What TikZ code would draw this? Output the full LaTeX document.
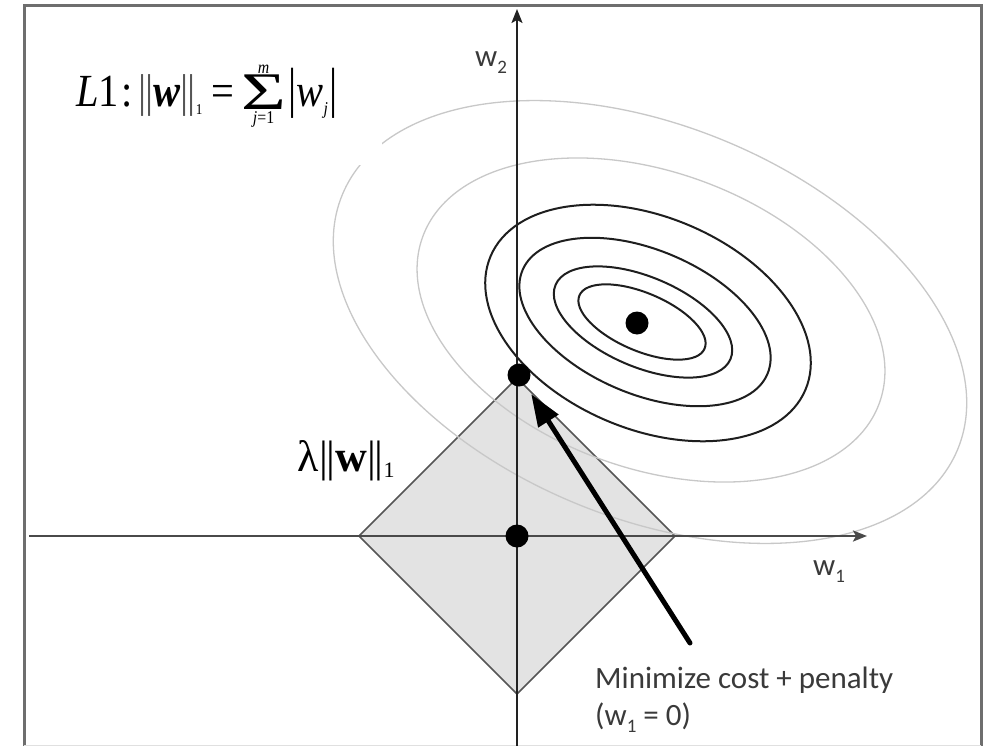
\documentclass[tikz,border=0pt]{standalone}
\usepackage{fontspec}
\usepackage{graphicx}
\setmainfont{Liberation Serif}
\newfontfamily\calibri{Carlito}
\usetikzlibrary{arrows.meta}
\definecolor{framegray}{HTML}{6E6E6E}
\definecolor{axisgray}{HTML}{4A4A4A}
\definecolor{vaxisgray}{HTML}{222222}
\definecolor{ringgray}{HTML}{C8C8C8}
\definecolor{ringdark}{HTML}{1E1E1E}
\definecolor{diafill}{HTML}{E3E3E3}
\definecolor{diaedge}{HTML}{555555}
\definecolor{labelgray}{HTML}{3A3A3A}
\definecolor{normgray}{HTML}{555555}
\newcommand{\fsz}[1]{\fontsize{#1}{#1}\selectfont}
\newcommand{\lowsub}[1]{\raisebox{-7pt}{\fsz{19}#1}}
\begin{document}
\begin{tikzpicture}[x=1pt,y=-1pt,
  darkring/.style={draw=ringdark,line width=2pt},
  lightring/.style={draw=ringgray,line width=1.3pt},
  axisline/.style={draw=axisgray,line width=2.4pt,-{Stealth[length=14pt,width=11pt,inset=3pt]}},
  dotnode/.style={circle,fill=black,inner sep=0pt,minimum size=23pt},
  sanslabel/.style={inner sep=0pt,text=labelgray,font=\calibri\fsz{31}},
  seriflabel/.style={inner sep=0pt,text=black}
]
\useasboundingbox (0,0) rectangle (992,746);
\fill[white] (0,0) rectangle (992,746);
% frame
\draw[framegray,line width=3pt] (24,746) -- (24,6) -- (981,6) -- (981,746);
\draw[black!12,line width=1pt] (24,745) -- (981,745);
% penalty region (diamond)
\draw[fill=diafill,draw=diaedge,line width=1.5pt] (359,536) -- (517,378) -- (675,536) -- (517,694) -- cycle;
% light contours
\draw[lightring, rotate around={-22.5:(650,322)}] (650,322) ellipse [x radius=333, y radius=196];
\draw[lightring, rotate around={-20:(651,320)}] (651,320) ellipse [x radius=243, y radius=148];
\fill[white] (30,12) rectangle (382,165);
% dark contours
\draw[darkring, rotate around={-23:(648,323)}] (648,323) ellipse [x radius=171, y radius=106];
\draw[darkring, rotate around={-23:(645,322)}] (645,322) ellipse [x radius=133, y radius=72];
\draw[darkring, rotate around={-23:(643,322)}] (643,322) ellipse [x radius=95, y radius=45];
\draw[darkring, rotate around={-23:(642,322)}] (642,322) ellipse [x radius=68, y radius=29];
% axes
\coordinate (xstart) at (29,536);
\coordinate (xend) at (867,536);
\coordinate (ystart) at (517,746);
\coordinate (yend) at (517,9);
\draw[axisline] (xstart) -- (xend);
\draw[axisline,draw=vaxisgray,line width=1.8pt] (ystart) -- (yend);
% dots
\node[dotnode] (origin) at (517,536) {};
\node[dotnode] (vdot) at (519,375) {};
\node[dotnode] (mindot) at (637,323) {};
% labels
\node[sanslabel,anchor=base west] (w2lab) at (475,67) {w\lowsub{2}};
\node[sanslabel,anchor=base west] (w1lab) at (813,575) {w\lowsub{1}};
\node[sanslabel,anchor=base west] (note1) at (595,688) {Minimize cost + penalty};
\node[sanslabel,anchor=base west] (note2) at (595,725) {(w\lowsub{1} = 0)};
\node[seriflabel,anchor=base west] (lam) at (297,471)
  {\fsz{44}λ\kern1pt|\kern-1.5pt|\textbf{w}|\kern-1.5pt|\raisebox{-6pt}{\fsz{22}1}};
\node[seriflabel,anchor=base west] (formula) at (76,107)
  {\scalebox{0.88}[1]{\fsz{46}\textit{L}1\kern3pt:\kern6pt\textcolor{normgray}{|\kern-1pt|}\textbf{\textit{w}}\textcolor{normgray}{|\kern-1pt|}\raisebox{-8pt}{\fsz{15}1}\kern10pt=\kern8pt$\mathop{\hbox{\raisebox{-3pt}{\scalebox{1.9}[1.15]{Σ}}}}\limits_{\hbox{\fsz{18}\textit{j}=1}}^{\hbox{\fsz{18}\textit{m}}}$\kern3pt\scalebox{1}[1.2]{|}\textit{w}\raisebox{-8pt}{\fsz{18}\textit{j}}\kern2pt\scalebox{1}[1.2]{|}}};
% arrow to the corner solution
\coordinate (tail) at (690,643);
\draw[line width=5pt,line cap=round,-{Triangle[length=32pt,width=23pt]},shorten >=11pt] (tail) -- (vdot);
\end{tikzpicture}
\end{document}
